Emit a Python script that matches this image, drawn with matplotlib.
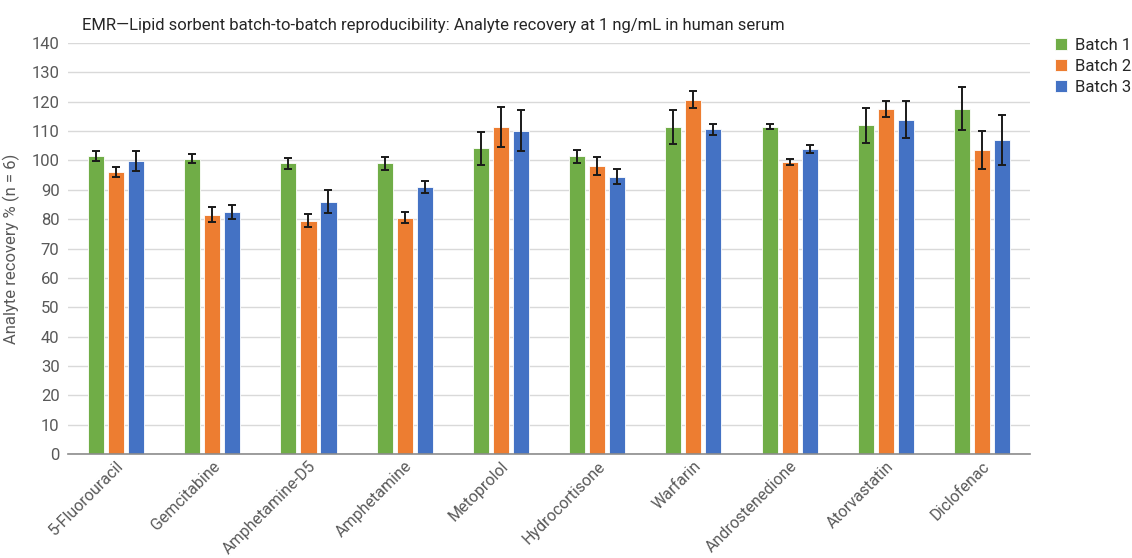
import numpy as np
import matplotlib
matplotlib.use("Agg")
import matplotlib.pyplot as plt

plt.rcParams['font.family'] = ['Roboto', 'DejaVu Sans']

analytes = ["5-Fluorouracil", "Gemcitabine", "Amphetamine-D5", "Amphetamine", "Metoprolol",
            "Hydrocortisone", "Warfarin", "Androstenedione", "Atorvastatin", "Diclofenac"]
batch_names = ["Batch 1", "Batch 2", "Batch 3"]

batch1 = [101.5, 100.6, 99.0, 99.0, 104.1, 101.4, 111.4, 111.5, 112.0, 117.6]
batch2 = [96.2, 81.5, 79.5, 80.5, 111.4, 98.2, 120.7, 99.6, 117.6, 103.5]
batch3 = [99.7, 82.5, 86.0, 91.0, 110.2, 94.5, 110.6, 103.9, 113.8, 106.9]

batch1_sd = [1.8, 1.6, 2.0, 2.3, 5.7, 2.2, 5.8, 0.9, 5.9, 7.3]
batch2_sd = [1.7, 2.5, 2.3, 1.8, 6.8, 3.1, 3.0, 1.0, 2.8, 6.4]
batch3_sd = [3.4, 2.5, 4.0, 2.0, 6.9, 2.5, 1.9, 1.3, 6.3, 8.5]

colors = ["#70ad47", "#ed7d31", "#4472c4"]

fig = plt.figure(figsize=(11.32, 5.58), dpi=100)
ax = fig.add_axes([0.060, 0.186, 0.850, 0.737])

x = np.arange(len(analytes))
width = 0.167
step = 0.208
for i, (vals, sds) in enumerate(zip([batch1, batch2, batch3], [batch1_sd, batch2_sd, batch3_sd])):
    ax.bar(x + (i - 1) * step, vals, width, color=colors[i], edgecolor="white", linewidth=0.6,
           label=batch_names[i], zorder=2,
           yerr=sds, error_kw=dict(ecolor="#1a1a1a", elinewidth=1.4, capsize=3, capthick=1.4, zorder=3))

ax.set_xlim(-0.5, len(analytes) - 0.5)
ax.set_ylim(0, 140)
ax.set_yticks(np.arange(0, 141, 10))
ax.grid(axis="y", color="#d9d9d9", linewidth=1, zorder=0)
ax.set_axisbelow(True)
for s in ["top", "right", "left"]:
    ax.spines[s].set_visible(False)
ax.spines["bottom"].set_color("#8c8c8c")
ax.spines["bottom"].set_linewidth(1.2)
ax.tick_params(axis="y", length=0, labelsize=12, labelcolor="#595959", pad=6)
ax.tick_params(axis="x", length=0, labelsize=11.5, labelcolor="#595959", pad=3)
ax.set_xticks(x)
ax.set_xticklabels(analytes, rotation=45, ha="right", rotation_mode="anchor")
ax.set_ylabel("Analyte recovery % (n = 6)", fontsize=12, color="#595959", labelpad=8)

fig.text(0.072, 0.955, "EMR\u2014Lipid sorbent batch-to-batch reproducibility: Analyte recovery at 1 ng/mL in human serum",
         fontsize=12, color="#262626", ha="left", va="center")

handles, labels = ax.get_legend_handles_labels()
leg = fig.legend(handles, labels, loc="upper left", bbox_to_anchor=(0.926, 0.944), frameon=False,
                 fontsize=12, borderaxespad=0, handlelength=0.72, handleheight=0.72,
                 handletextpad=0.48, labelspacing=0.35)
for t in leg.get_texts():
    t.set_color("#262626")

fig.savefig("out.png", dpi=100)
